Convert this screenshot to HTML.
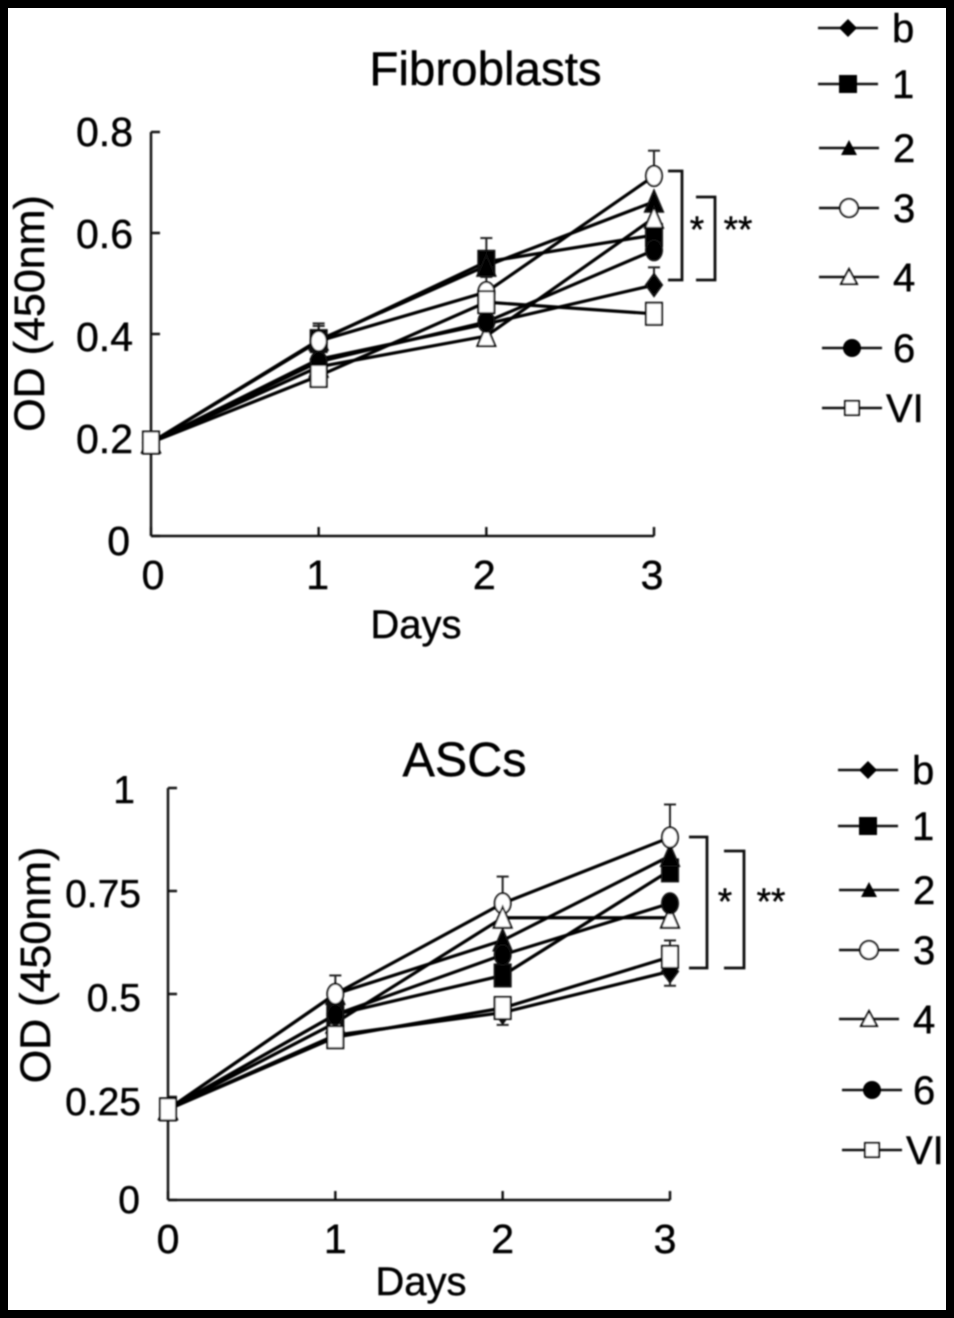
<!DOCTYPE html>
<html>
<head>
<meta charset="utf-8">
<title>Fibroblasts and ASCs</title>
<style>
html,body{margin:0;padding:0;background:#000;}
#stage{position:absolute;left:0;top:0;width:954px;height:1318px;background:#000;overflow:hidden;}
svg{position:absolute;left:0;top:0;}
text{font-family:"Liberation Sans",sans-serif;fill:#000;stroke:#000;stroke-width:0.45;}
</style>
</head>
<body>
<div id="stage">
<svg id="fig" width="954" height="1318" viewBox="0 0 954 1318">
<defs><filter id="soft" x="-2%" y="-2%" width="104%" height="104%"><feGaussianBlur stdDeviation="0.7"/></filter></defs>
<rect x="8" y="8" width="938" height="1302" fill="#fff"/>
<g id="root" filter="url(#soft)"></g>
</svg>
</div>
<script>
const days = [0, 1, 2, 3];
const seriesNames = ['b', '1', '2', '3', '4', '6', 'VI'];

const fibTicks = ['0', '0.2', '0.4', '0.6', '0.8'];
const fibB  = [0.185, 0.350, 0.420, 0.497];
const fib1  = [0.185, 0.386, 0.543, 0.596];
const fib2  = [0.185, 0.388, 0.535, 0.662];
const fib3  = [0.185, 0.386, 0.483, 0.713];
const fib4  = [0.185, 0.335, 0.396, 0.630];
const fib6  = [0.185, 0.345, 0.424, 0.566];
const fibVI = [0.185, 0.317, 0.463, 0.440];
const fibErr3 = [0, 0.035, 0.030, 0.050];
const fibErr1 = [0, 0.030, 0.047, 0.020];
const fibErrB = [0, 0.010, 0.010, 0.035];

const ascTicks = ['0', '0.25', '0.5', '0.75', '1'];
const ascB  = [0.220, 0.400, 0.455, 0.555];
const asc1  = [0.220, 0.450, 0.545, 0.800];
const asc2  = [0.220, 0.500, 0.630, 0.835];
const asc3  = [0.220, 0.500, 0.720, 0.880];
const asc4  = [0.220, 0.430, 0.685, 0.685];
const asc6  = [0.220, 0.450, 0.595, 0.720];
const ascVI = [0.220, 0.395, 0.466, 0.590];
const ascErr3 = [0, 0.045, 0.065, 0.080];
const ascErrVI = [0, 0.010, 0.020, 0.040];
const ascErrB = [0, 0.010, 0.030, 0.035];

const NS = 'http://www.w3.org/2000/svg';
const root = document.getElementById('root');

function mk(parent, tag, attrs) {
  const el = document.createElementNS(NS, tag);
  for (const k in attrs) el.setAttribute(k, attrs[k]);
  parent.appendChild(el);
  return el;
}
function label(parent, str, x, y, size, anchor, name, rotate) {
  const t = mk(parent, 'text', {x: x, y: y, 'font-size': size, 'text-anchor': anchor});
  if (rotate) t.setAttribute('transform', 'rotate(-90 ' + x + ' ' + y + ')');
  
  
  t.textContent = str;
  return t;
}
function marker(parent, kind, x, y, s) {
  const w = 8 * s, h = 11 * s;
  let el;
  const stroke = {stroke: '#111', 'stroke-width': 2};
  if (kind === 'b') {
    el = mk(parent, 'polygon', Object.assign({points: [x, y - h, x + w, y, x, y + h, x - w, y].join(' '), fill: '#000'}, stroke));
  } else if (kind === '1') {
    el = mk(parent, 'rect', Object.assign({x: x - w, y: y - h, width: 2 * w, height: 2 * h, fill: '#000'}, stroke));
  } else if (kind === '2' || kind === '4') {
    const pts = [x, y - h, x + w + 1, y + h - 1, x - w - 1, y + h - 1].join(' ');
    el = mk(parent, 'polygon', Object.assign({points: pts, fill: kind === '2' ? '#000' : '#fff'}, stroke));
  } else if (kind === '3' || kind === '6') {
    el = mk(parent, 'ellipse', Object.assign({cx: x, cy: y, rx: w, ry: h * 0.92, fill: kind === '6' ? '#000' : '#fff'}, stroke));
  } else {
    el = mk(parent, 'rect', Object.assign({x: x - w, y: y - h, width: 2 * w, height: 2 * h, fill: '#fff'}, stroke));
  }
  return el;
}
function legendMarker(parent, kind, x, y) {
  let el;
  const stroke = {stroke: '#111', 'stroke-width': 2};
  if (kind === 'b') el = mk(parent, 'polygon', {points: [x, y - 9, x + 9, y, x, y + 9, x - 9, y].join(' '), fill: '#000'});
  else if (kind === '1') el = mk(parent, 'rect', {x: x - 9, y: y - 9, width: 18, height: 18, fill: '#000'});
  else if (kind === '2') el = mk(parent, 'polygon', {points: [x, y - 8, x + 8, y + 7, x - 8, y + 7].join(' '), fill: '#000'});
  else if (kind === '3') el = mk(parent, 'circle', Object.assign({cx: x, cy: y, r: 9, fill: '#fff'}, stroke));
  else if (kind === '4') el = mk(parent, 'polygon', Object.assign({points: [x, y - 8, x + 8, y + 7, x - 8, y + 7].join(' '), fill: '#fff'}, stroke));
  else if (kind === '6') el = mk(parent, 'circle', {cx: x, cy: y, r: 9, fill: '#000'});
  else el = mk(parent, 'rect', Object.assign({x: x - 7, y: y - 7, width: 14, height: 14, fill: '#fff'}, stroke));
  return el;
}

function drawChart(cfg) {
  const g = mk(root, 'g', {});
  
  
  const xScale = d => cfg.x0 + (cfg.x3 - cfg.x0) * d / days[days.length - 1];
  const yScale = v => cfg.y0 - (cfg.y0 - cfg.yTop) * v / cfg.yMax;

  // axes
  const ax = mk(g, 'g', {stroke: '#111', 'stroke-width': 2.4, fill: 'none'});
  
  
  const yLine = mk(ax, 'line', {x1: xScale(0), x2: xScale(0), y1: yScale(cfg.yMax), y2: yScale(0)});
  
  
  const xLine = mk(ax, 'line', {x1: xScale(0), x2: xScale(3), y1: yScale(0), y2: yScale(0)});
  
  

  cfg.ticks.forEach((t, i) => {
    const v = parseFloat(t);
    const tk = mk(ax, 'line', {x1: xScale(0), x2: xScale(0) + 9, y1: yScale(v), y2: yScale(v)});
    
    
    label(g, t, xScale(0) - cfg.tickPad + cfg.tickNudgeX[i], yScale(v) + 15 + cfg.tickNudgeY[i], cfg.tickSize, 'end', 'y-tick-label');
  });
  days.forEach((d, i) => {
    const tk = mk(ax, 'line', {x1: xScale(d), x2: xScale(d), y1: yScale(0), y2: yScale(0) - 9});
    
    
    label(g, String(d), xScale(d) + cfg.xNudge[i], yScale(0) + cfg.xLabelDy, 41, 'middle', 'x-tick-label');
  });

  // lines
  const order = cfg.order;
  order.forEach(name => {
    const vals = cfg.series[name];
    const pts = vals.map((v, i) => xScale(days[i]) + ',' + yScale(v)).join(' ');
    const pl = mk(g, 'polyline', {points: pts, fill: 'none', stroke: '#000', 'stroke-width': 3.2});
    
    
  });

  // error bars
  cfg.errors.forEach(er => {
    const vals = cfg.series[er.series];
    er.values.forEach((e, i) => {
      if (!e) return;
      const x = xScale(days[i]);
      const y1 = yScale(vals[i]);
      const y2 = yScale(vals[i] + er.dir * e);
      const eg = mk(g, 'g', {stroke: '#222', 'stroke-width': 2, fill: 'none'});
      
      
      mk(eg, 'line', {x1: x, x2: x, y1: y1, y2: y2});
      mk(eg, 'line', {x1: x - 6, x2: x + 6, y1: y2, y2: y2});
    });
  });

  // markers, drawn last series on top
  order.forEach(name => {
    const vals = cfg.series[name];
    vals.forEach((v, i) => {
      const m = marker(g, name, xScale(days[i]), yScale(v), 1);
      
      
    });
  });

  label(g, cfg.title, cfg.titleX, cfg.titleY, cfg.titleSize, 'middle', 'chart-title');
  label(g, 'Days', cfg.daysX, cfg.daysY, 40, 'middle', 'x-axis-title');
  label(g, 'OD (450nm)', cfg.ylabX, cfg.ylabY, 43, 'middle', 'y-axis-title', true);

  // significance brackets
  cfg.brackets.forEach(b => {
    const p = mk(g, 'polyline', {points: [b.x1, b.top, b.x2, b.top, b.x2, b.bot, b.x1, b.bot].join(' '), fill: 'none', stroke: '#111', 'stroke-width': 2.8});
    
    
    label(g, b.text, b.tx, b.ty, 37, 'middle', 'significance-label');
  });

  // legend
  const lg = mk(g, 'g', {});
  
  
  seriesNames.forEach((name, i) => {
    const e = cfg.legend[i];
    const eg = mk(lg, 'g', {});
    
    
    mk(eg, 'line', {x1: e.x, x2: e.x + 60, y1: e.y, y2: e.y, stroke: '#111', 'stroke-width': 2.4});
    legendMarker(eg, name, e.x + 30, e.y);
    const lx = name === 'VI' ? e.x + 64 : (name === '6' ? e.x + 71 : e.x + 74);
    label(eg, name, lx, e.y + 14, 40, 'start', 'legend-label');
  });
}

drawChart({
  name: 'fibroblasts-chart', title: 'Fibroblasts', titleX: 485.5, titleY: 85, titleSize: 47.5,
  x0: 151, x3: 654, y0: 536, yTop: 132, yMax: 0.8, ticks: fibTicks, tickPad: 18, tickSize: 41,
  tickNudgeX: [-3, 0, 0, 0, 0], tickNudgeY: [4, 3, 2, 0, -1],
  xNudge: [2, -1, -2, -2], xLabelDy: 53, daysX: 416, daysY: 638, ylabX: 44, ylabY: 313.5,
  order: ['b', '1', '2', '3', '4', '6', 'VI'],
  series: {b: fibB, '1': fib1, '2': fib2, '3': fib3, '4': fib4, '6': fib6, VI: fibVI},
  errors: [{series: '3', dir: 1, values: fibErr3}, {series: '1', dir: 1, values: fibErr1}, {series: 'b', dir: 1, values: fibErrB}],
  brackets: [
    {x1: 668, x2: 682, top: 171, bot: 280, text: '*', tx: 697, ty: 242},
    {x1: 696, x2: 715, top: 197, bot: 280, text: '**', tx: 738, ty: 242}
  ],
  legend: [{x: 818, y: 28}, {x: 818, y: 84}, {x: 819, y: 148}, {x: 819, y: 208}, {x: 819, y: 277}, {x: 822, y: 348}, {x: 822, y: 408}]
});

drawChart({
  name: 'ascs-chart', title: 'ASCs', titleX: 464.5, titleY: 776, titleSize: 48.5,
  x0: 168, x3: 670, y0: 1200, yTop: 788, yMax: 1, ticks: ascTicks, tickPad: 27, tickSize: 39,
  tickNudgeX: [-1, 0, 0, 0, -6], tickNudgeY: [-2, 3, 2, 1, 0],
  xNudge: [0, 0, 0, -5], xLabelDy: 53, daysX: 421, daysY: 1295, ylabX: 50, ylabY: 965,
  order: ['b', '1', '2', '3', '4', '6', 'VI'],
  series: {b: ascB, '1': asc1, '2': asc2, '3': asc3, '4': asc4, '6': asc6, VI: ascVI},
  errors: [{series: '3', dir: 1, values: ascErr3}, {series: 'VI', dir: 1, values: ascErrVI}, {series: 'b', dir: -1, values: ascErrB}],
  brackets: [
    {x1: 689, x2: 707, top: 837, bot: 968, text: '*', tx: 725, ty: 914},
    {x1: 724, x2: 744, top: 851, bot: 968, text: '**', tx: 771, ty: 914}
  ],
  legend: [{x: 838, y: 770}, {x: 838, y: 826}, {x: 839, y: 890}, {x: 839, y: 950}, {x: 839, y: 1019}, {x: 842, y: 1090}, {x: 842, y: 1150}]
});
</script>
</body>
</html>
